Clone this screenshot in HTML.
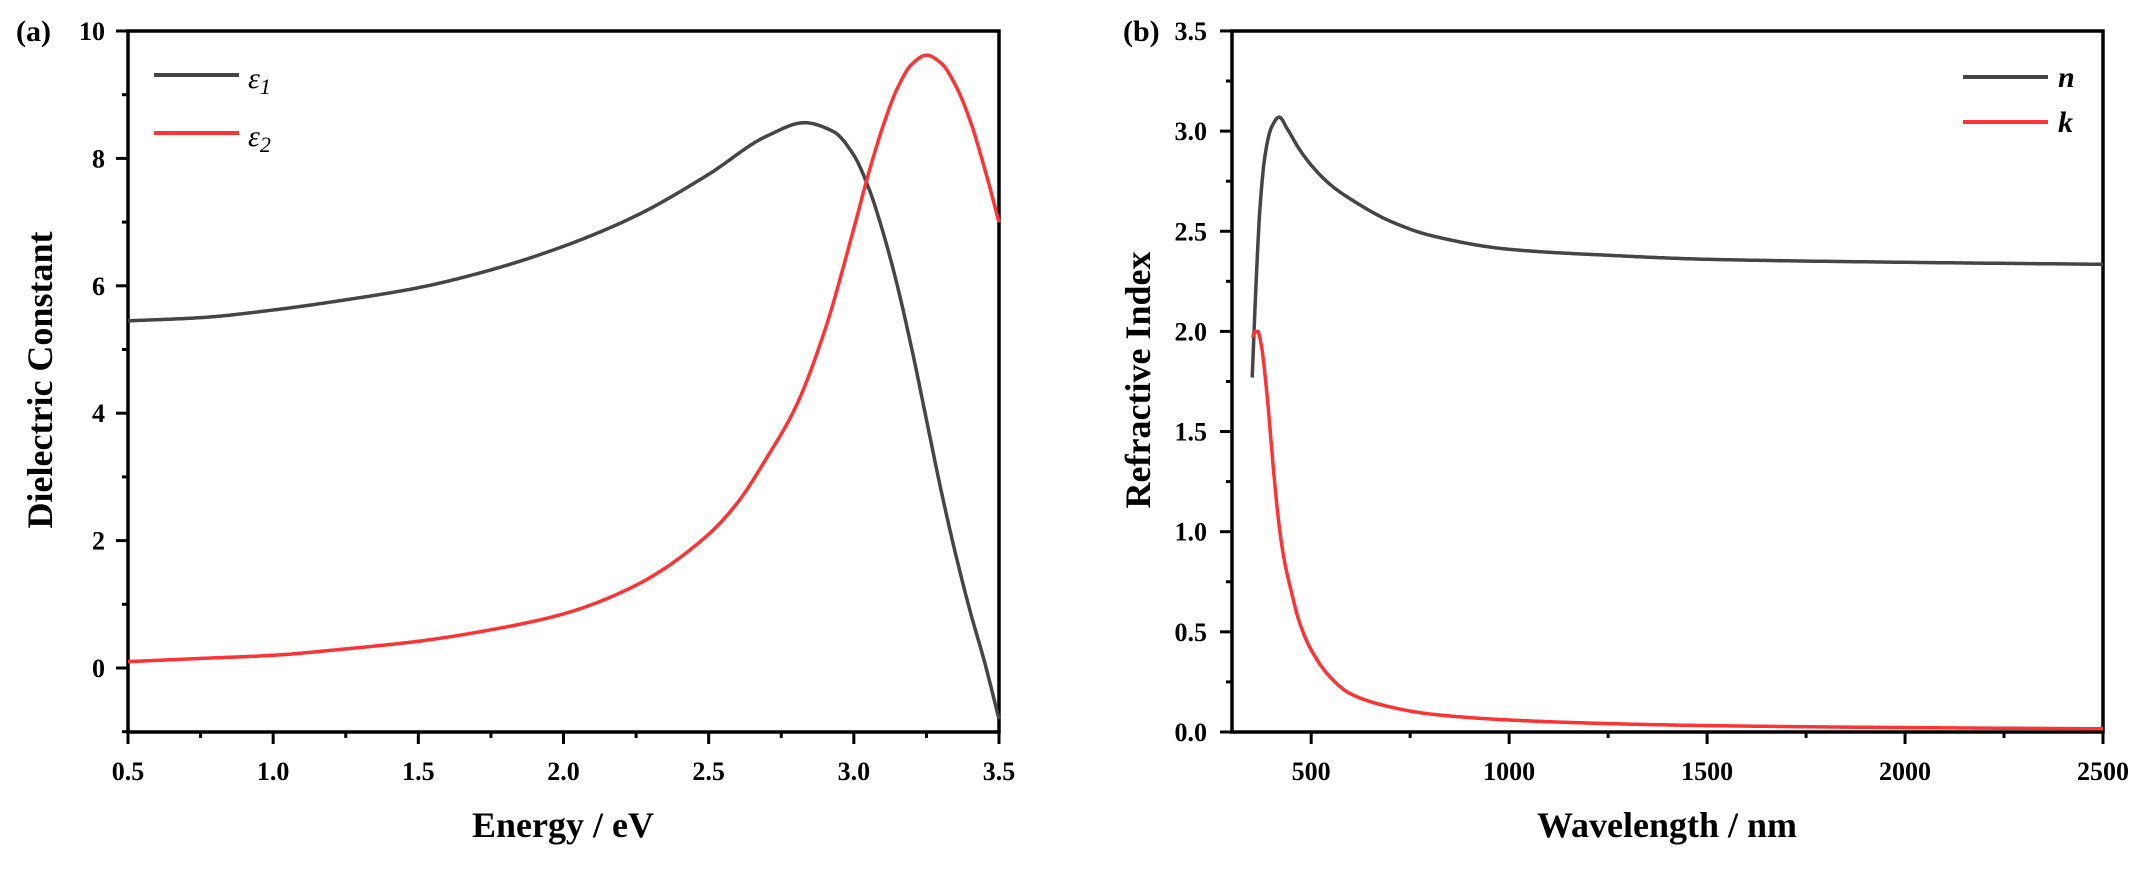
<!DOCTYPE html>
<html><head><meta charset="utf-8"><style>
html,body{margin:0;padding:0;background:#fff;}
svg{display:block;font-family:"Liberation Serif",serif;font-weight:bold;}
</style></head><body>
<svg id="s" width="2152" height="870" xmlns="http://www.w3.org/2000/svg"></svg>
<script>
const s=document.getElementById('s');let h='';
function interp(pts){const n=pts.length,xs=pts.map(p=>p[0]),ys=pts.map(p=>p[1]);const d=[],m=[];
for(let i=0;i<n-1;i++)d.push((ys[i+1]-ys[i])/(xs[i+1]-xs[i]));
m[0]=d[0];m[n-1]=d[n-2];
for(let i=1;i<n-1;i++){if(d[i-1]*d[i]<=0)m[i]=0;else{const w1=2*(xs[i+1]-xs[i])+(xs[i]-xs[i-1]),w2=(xs[i+1]-xs[i])+2*(xs[i]-xs[i-1]);m[i]=(w1+w2)/(w1/d[i-1]+w2/d[i]);}}
return x=>{let i=0;while(i<n-2&&x>xs[i+1])i++;const hh=xs[i+1]-xs[i],t=(x-xs[i])/hh,t2=t*t,t3=t2*t;
return (2*t3-3*t2+1)*ys[i]+(t3-2*t2+t)*hh*m[i]+(-2*t3+3*t2)*ys[i+1]+(t3-t2)*hh*m[i+1];};}
function path(pts,fx,fy){const f=interp(pts),a=pts[0][0],b=pts[pts.length-1][0];let d='';
for(let j=0;j<=600;j++){const x=a+(b-a)*j/600;d+=(j?'L':'M')+fx(x).toFixed(1)+','+fy(f(x)).toFixed(1);}return d;}
// Left panel
const L=128,R=999,T=31,B=732;
const ex=e=>L+(e-0.5)*(R-L)/3, ey=v=>668-v*63.7;
h+=`<rect x="${L}" y="${T}" width="${R-L}" height="${B-T}" fill="none" stroke="#000" stroke-width="3.5"/>`;
for(let i=0;i<=12;i++){const e=0.5+i*0.25,x=ex(e),maj=i%2==0;h+=`<line x1="${x}" y1="${B}" x2="${x}" y2="${B+(maj?12:6)}" stroke="#000" stroke-width="3"/>`;
if(maj)h+=`<text x="${x}" y="780" font-size="26" text-anchor="middle">${e.toFixed(1)}</text>`;}
for(let v=-1;v<=10;v++){const y=ey(v),maj=v%2==0;h+=`<line x1="${L}" y1="${y}" x2="${L-(maj?12:6)}" y2="${y}" stroke="#000" stroke-width="3"/>`;
if(maj)h+=`<text x="105" y="${y+9}" font-size="26" text-anchor="end">${v}</text>`;}
const e1=[[0.5,5.45],[0.75,5.5],[1.0,5.62],[1.25,5.78],[1.5,5.97],[1.75,6.25],[2.0,6.62],[2.25,7.1],[2.5,7.75],[2.7,8.35],[2.83,8.56],[2.93,8.42],[3.0,8.05],[3.05,7.55],[3.1,6.85],[3.15,6.0],[3.2,5.0],[3.25,3.9],[3.3,2.8],[3.35,1.8],[3.4,0.9],[3.45,0.1],[3.5,-0.8]];
const e2=[[0.5,0.1],[0.75,0.15],[1.0,0.2],[1.25,0.3],[1.5,0.42],[1.75,0.6],[2.0,0.85],[2.25,1.3],[2.5,2.1],[2.6,2.6],[2.7,3.3],[2.8,4.1],[2.9,5.3],[3.0,6.9],[3.05,7.75],[3.1,8.5],[3.15,9.1],[3.2,9.48],[3.25,9.62],[3.3,9.5],[3.35,9.15],[3.4,8.6],[3.45,7.85],[3.5,7.0]];
h+=`<path d="${path(e1,ex,ey)}" fill="none" stroke="#454545" stroke-width="3.5"/>`;
h+=`<path d="${path(e2,ex,ey)}" fill="none" stroke="#ff3333" stroke-width="3.5"/>`;
h+=`<line x1="154" y1="75" x2="239" y2="75" stroke="#454545" stroke-width="4"/><line x1="154" y1="133" x2="239" y2="133" stroke="#ff3333" stroke-width="4"/>`;
h+=`<text x="248" y="88" font-size="30" font-style="italic" font-weight="normal">ε<tspan font-size="22" dy="6">1</tspan></text>`;
h+=`<text x="248" y="146" font-size="30" font-style="italic" font-weight="normal">ε<tspan font-size="22" dy="6">2</tspan></text>`;
h+=`<text x="16" y="41" font-size="30">(a)</text>`;
h+=`<text x="563" y="837" font-size="36" text-anchor="middle">Energy / eV</text>`;
h+=`<text transform="translate(52,380) rotate(-90)" font-size="36" text-anchor="middle">Dielectric Constant</text>`;
// Right panel
const L2=1232,R2=2103;
const wx=w=>L2+(w-300)*(R2-L2)/2200, wy=v=>B-v*200.3;
h+=`<rect x="${L2}" y="${T}" width="${R2-L2}" height="${B-T}" fill="none" stroke="#000" stroke-width="3.5"/>`;
for(let w=500;w<=2500;w+=250){const x=wx(w),maj=w%500==0;h+=`<line x1="${x}" y1="${B}" x2="${x}" y2="${B+(maj?12:6)}" stroke="#000" stroke-width="3"/>`;
if(maj)h+=`<text x="${x}" y="780" font-size="26" text-anchor="middle">${w}</text>`;}
for(let i=0;i<=14;i++){const v=i*0.25,y=wy(v),maj=i%2==0;h+=`<line x1="${L2}" y1="${y}" x2="${L2-(maj?12:6)}" y2="${y}" stroke="#000" stroke-width="3"/>`;
if(maj)h+=`<text x="1207" y="${y+9}" font-size="26" text-anchor="end">${v.toFixed(1)}</text>`;}
const n=[[351,1.77],[360,2.2],[370,2.6],[385,2.9],[400,3.02],[419,3.07],[440,3.01],[470,2.91],[500,2.83],[550,2.73],[600,2.66],[700,2.55],[800,2.48],[1000,2.41],[1250,2.38],[1500,2.36],[2000,2.345],[2500,2.335]];
const k=[[352,1.97],[358,2.0],[365,2.0],[375,1.92],[390,1.65],[400,1.42],[415,1.1],[430,0.88],[450,0.7],[470,0.55],[500,0.41],[550,0.27],[600,0.19],[700,0.125],[800,0.09],[1000,0.06],[1250,0.042],[1500,0.032],[2000,0.022],[2500,0.016]];
h+=`<path d="${path(n,wx,wy)}" fill="none" stroke="#454545" stroke-width="3.5"/>`;
h+=`<path d="${path(k,wx,wy)}" fill="none" stroke="#ff3333" stroke-width="3.5"/>`;
h+=`<line x1="1963" y1="77" x2="2048" y2="77" stroke="#454545" stroke-width="4"/><line x1="1963" y1="122" x2="2048" y2="122" stroke="#ff3333" stroke-width="4"/>`;
h+=`<text x="2058" y="87" font-size="30" font-style="italic">n</text><text x="2058" y="132" font-size="30" font-style="italic">k</text>`;
h+=`<text x="1123" y="41" font-size="30">(b)</text>`;
h+=`<text x="1667" y="837" font-size="36" text-anchor="middle">Wavelength / nm</text>`;
h+=`<text transform="translate(1150,380) rotate(-90)" font-size="36" text-anchor="middle">Refractive Index</text>`;
s.innerHTML=h;
</script>
</body></html>
